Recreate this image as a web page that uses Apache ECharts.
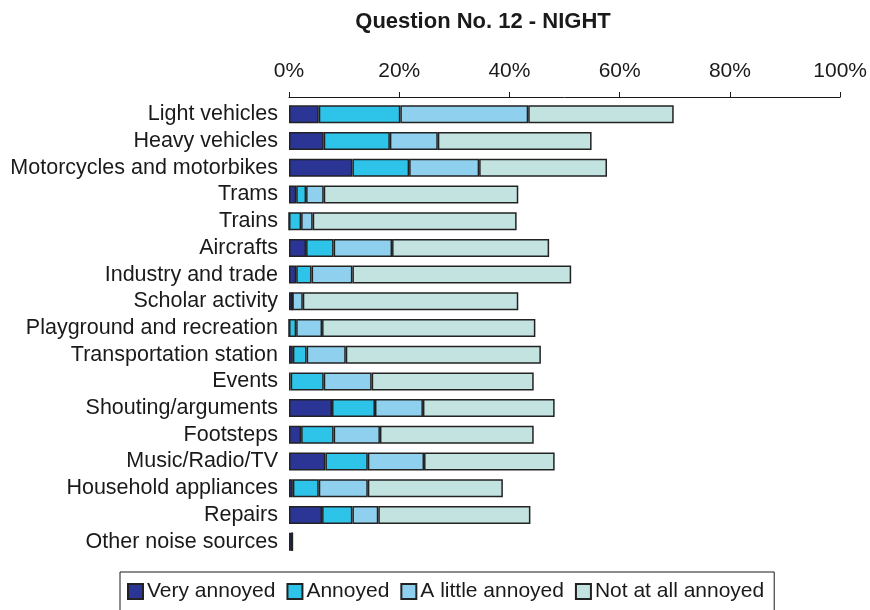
<!DOCTYPE html>
<html>
<head>
<meta charset="utf-8">
<script src="https://cdn.jsdelivr.net/npm/echarts@6/dist/echarts.min.js"></script>
<style>
  html, body { margin: 0; padding: 0; background: #fff; }
  #chart { width: 870px; height: 610px; }
</style>
</head>
<body>
<div id="chart"></div>
<script>
const categories = [
  'Light vehicles', 'Heavy vehicles', 'Motorcycles and motorbikes', 'Trams', 'Trains',
  'Aircrafts', 'Industry and trade', 'Scholar activity', 'Playground and recreation',
  'Transportation station', 'Events', 'Shouting/arguments', 'Footsteps', 'Music/Radio/TV',
  'Household appliances', 'Repairs', 'Other noise sources'
]
// percentages of respondents per answer
const veryAnnoyed = [5.4, 6.3, 11.5, 1.3, 0, 3.1, 1.3, 0.6, 0, 0.7, 0.3, 7.8, 2.2, 6.6, 0.7, 6.0, 0.6]
const annoyed = [14.8, 12.0, 10.3, 1.8, 2.2, 5.0, 2.8, 0, 1.3, 2.5, 6.0, 7.8, 5.9, 7.7, 4.7, 5.5, 0]
const littleAnnoyed = [23.2, 8.7, 12.7, 3.2, 2.1, 10.6, 7.4, 1.9, 4.7, 7.1, 8.7, 8.7, 8.4, 10.2, 8.9, 4.7, 0]
const notAnnoyed = [26.4, 27.9, 23.2, 35.3, 37.0, 28.5, 39.7, 39.1, 38.7, 35.4, 29.4, 23.9, 27.9, 23.7, 24.5, 27.6, 0]
const xTicks = [0, 20, 40, 60, 80, 100]

const seriesNames = ['Very annoyed', 'Annoyed', 'A little annoyed', 'Not at all annoyed']
const seriesData = [veryAnnoyed, annoyed, littleAnnoyed, notAnnoyed]
const colors = ['#2b3595', '#2ec3e8', '#8fd0ee', '#c3e3e0']

const chart = echarts.init(document.getElementById('chart'))
chart.setOption({
  backgroundColor: '#ffffff',
  animation: false,
  title: {
    text: 'Question No. 12 - NIGHT',
    left: 478,
    textAlign: 'center',
    top: 6,
    textStyle: {
      fontFamily: 'Liberation Sans',
      fontWeight: 'bold',
      fontSize: 22,
      color: '#1a1a1a'
    }
  },
  grid: {
    left: 289,
    right: 28,
    top: 101,
    bottom: 55
  },
  legend: {
    data: seriesNames,
    left: 120,
    top: 572,
    itemWidth: 15,
    itemHeight: 15,
    itemGap: 11,
    padding: [9, 10, 14, 7],
    borderColor: '#1a1a1a',
    borderWidth: 1,
    icon: 'rect',
    textStyle: {
      fontFamily: 'Liberation Sans',
      fontSize: 21,
      color: '#1a1a1a',
      padding: [0, 0, 0, -1]
    }
  },
  xAxis: {
    type: 'value',
    position: 'top',
    offset: 4,
    min: xTicks[0],
    max: xTicks[xTicks.length - 1],
    interval: xTicks[1] - xTicks[0],
    axisLabel: {
      formatter: '{value}%',
      margin: 15,
      fontFamily: 'Liberation Sans',
      fontSize: 21,
      color: '#1a1a1a'
    },
    axisLine: { show: true, lineStyle: { color: '#1a1a1a', width: 1 } },
    axisTick: { show: true, length: 5, lineStyle: { color: '#1a1a1a' } },
    splitLine: { show: false }
  },
  yAxis: {
    type: 'category',
    inverse: true,
    data: categories,
    axisLabel: {
      interval: 0,
      margin: 11,
      padding: [5, 0, 0, 0],
      fontFamily: 'Liberation Sans',
      fontSize: 21.5,
      color: '#1a1a1a'
    },
    axisLine: { show: false },
    axisTick: { show: false }
  },
  series: seriesNames.map((name, i) => ({
    name: name,
    type: 'bar',
    stack: 'total',
    barWidth: 18,
    data: seriesData[i],
    itemStyle: {
      color: colors[i],
      borderColor: '#222222',
      borderWidth: 1.5
    }
  }))
})
</script>
</body>
</html>
